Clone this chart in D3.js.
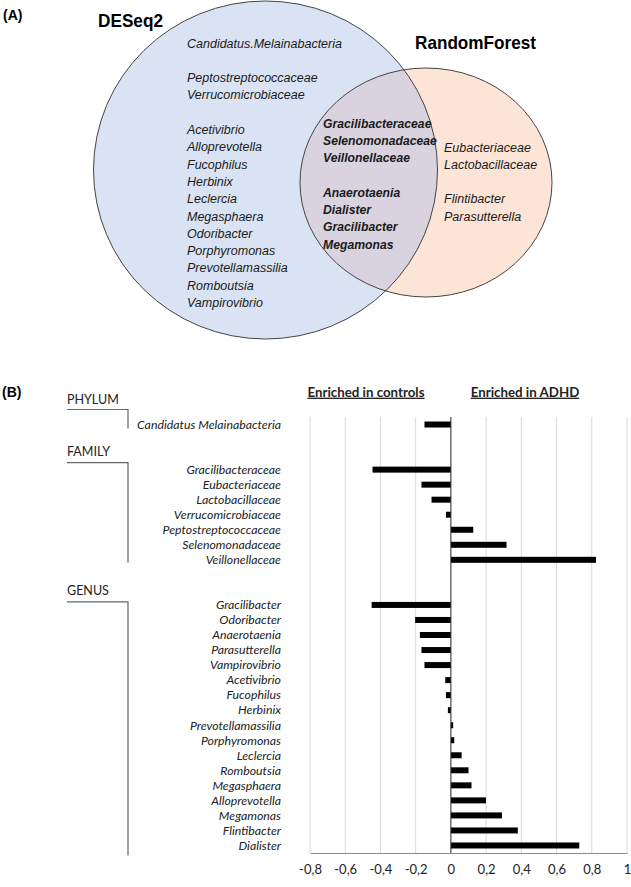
<!DOCTYPE html>
<html><head><meta charset="utf-8">
<script src="https://cdn.jsdelivr.net/npm/d3@7"></script>
<style>body{margin:0;background:#fff}svg{display:block}</style>
</head><body>
<script>
// ---------- Venn (A) data ----------
const setNames = ["DESeq2", "RandomForest"];
const deseqOnlyGroups = [
  ["Candidatus.Melainabacteria"],
  ["Peptostreptococcaceae", "Verrucomicrobiaceae"],
  ["Acetivibrio", "Alloprevotella", "Fucophilus", "Herbinix", "Leclercia", "Megasphaera",
   "Odoribacter", "Porphyromonas", "Prevotellamassilia", "Romboutsia", "Vampirovibrio"]
];
const sharedGroups = [
  ["Gracilibacteraceae", "Selenomonadaceae", "Veillonellaceae"],
  ["Anaerotaenia", "Dialister", "Gracilibacter", "Megamonas"]
];
const rfOnlyGroups = [
  ["Eubacteriaceae", "Lactobacillaceae"],
  ["Flintibacter", "Parasutterella"]
];

// ---------- Bar chart (B) data ----------
const levelNames = ["PHYLUM", "FAMILY", "GENUS"];
const phylumTaxa = ["Candidatus Melainabacteria"];
const phylumValues = [-0.15];
const familyTaxa = ["Gracilibacteraceae", "Eubacteriaceae", "Lactobacillaceae", "Verrucomicrobiaceae",
  "Peptostreptococcaceae", "Selenomonadaceae", "Veillonellaceae"];
const familyValues = [-0.445, -0.167, -0.11, -0.028, 0.127, 0.316, 0.824];
const genusTaxa = ["Gracilibacter", "Odoribacter", "Anaerotaenia", "Parasutterella", "Vampirovibrio",
  "Acetivibrio", "Fucophilus", "Herbinix", "Prevotellamassilia", "Porphyromonas", "Leclercia",
  "Romboutsia", "Megasphaera", "Alloprevotella", "Megamonas", "Flintibacter", "Dialister"];
const genusValues = [-0.45, -0.203, -0.176, -0.167, -0.15, -0.032, -0.028, -0.017, 0.013, 0.019,
  0.061, 0.10, 0.117, 0.199, 0.29, 0.38, 0.729];
const xTickValues = [-0.8, -0.6, -0.4, -0.2, 0, 0.2, 0.4, 0.6, 0.8, 1];
const headers = ["Enriched in controls", "Enriched in ADHD"];

const W = 631, H = 887;
const svg = d3.select("body").append("svg").attr("width", W).attr("height", H);

// ================= (A) Venn =================
const venn = svg.append("g");
svg.append("text").attr("x", 3).attr("y", 20).text("(A)")
  .attr("font-family", "Liberation Sans, Arial, sans-serif").attr("font-weight", "bold").attr("font-size", 14);

const left = {cx: 265.5, cy: 170, rx: 172, ry: 169};
const right = {cx: 426, cy: 182.5, rx: 126, ry: 114.5};
const defs = svg.append("defs");
defs.append("clipPath").attr("id", "clipL").append("ellipse")
  .attr("cx", left.cx).attr("cy", left.cy).attr("rx", left.rx).attr("ry", left.ry);

venn.append("ellipse").attr("cx", left.cx).attr("cy", left.cy).attr("rx", left.rx).attr("ry", left.ry)
  .attr("fill", "#dae3f3");
venn.append("ellipse").attr("cx", right.cx).attr("cy", right.cy).attr("rx", right.rx).attr("ry", right.ry)
  .attr("fill", "#fce4d6");
venn.append("ellipse").attr("cx", right.cx).attr("cy", right.cy).attr("rx", right.rx).attr("ry", right.ry)
  .attr("fill", "#d8d3de").attr("clip-path", "url(#clipL)");
venn.append("ellipse").attr("cx", left.cx).attr("cy", left.cy).attr("rx", left.rx).attr("ry", left.ry)
  .attr("fill", "none").attr("stroke", "#444").attr("stroke-width", 1);
venn.append("ellipse").attr("cx", right.cx).attr("cy", right.cy).attr("rx", right.rx).attr("ry", right.ry)
  .attr("fill", "none").attr("stroke", "#444").attr("stroke-width", 1);

const vFont = "Liberation Sans, Arial, sans-serif";
venn.append("text").attr("x", 98).attr("y", 27).text(setNames[0])
  .attr("font-family", vFont).attr("font-weight", "bold").attr("font-size", 18.5)
  .attr("textLength", 65).attr("lengthAdjust", "spacingAndGlyphs");
venn.append("text").attr("x", 415).attr("y", 49).text(setNames[1])
  .attr("font-family", vFont).attr("font-weight", "bold").attr("font-size", 18.5)
  .attr("textLength", 121).attr("lengthAdjust", "spacingAndGlyphs");

function drawList(groups, x, yStart, lineH, gapH, bold) {
  let y = yStart;
  groups.forEach((grp, gi) => {
    if (gi > 0) y += gapH;
    grp.forEach(name => {
      venn.append("text").attr("x", x).attr("y", y).text(name)
        .attr("font-family", vFont).attr("font-style", "italic")
        .attr("font-weight", bold ? "bold" : "normal")
        .attr("font-size", bold ? 12.2 : 12.5).attr("fill", "#1a1a1a");
      y += lineH;
    });
  });
}
drawList(deseqOnlyGroups, 187, 47.5, 17.3, 17.3, false);
drawList(sharedGroups, 323, 127.5, 17.3, 17.3, true);
drawList(rfOnlyGroups, 444, 151.5, 17.3, 17.3, false);

// ================= (B) Bar chart =================
const cFont = "Lato, 'Open Sans', sans-serif";
svg.append("text").attr("x", 2).attr("y", 397).text("(B)")
  .attr("font-family", "Liberation Sans, Arial, sans-serif").attr("font-weight", "bold").attr("font-size", 14);

// slots: taxa rows plus blank separator rows
const levels = [
  {name: levelNames[0], taxa: phylumTaxa, values: phylumValues},
  {name: levelNames[1], taxa: familyTaxa, values: familyValues},
  {name: levelNames[2], taxa: genusTaxa, values: genusValues}
];
const slots = [];
const rows = [];
levels.forEach((lv, li) => {
  if (li > 0) { slots.push("blank" + li + "a"); slots.push("blank" + li + "b"); }
  lv.taxa.forEach((t, i) => { slots.push(t); rows.push({taxon: t, value: lv.values[i], level: li}); });
});

const plotTop = 417, plotBottom = 853;
const y = d3.scaleBand().domain(slots).range([plotTop, plotBottom]);
const x = d3.scaleLinear().domain([-0.8, 1]).range([310, 627]);

// gridlines
svg.append("g").selectAll("line").data(xTickValues).join("line")
  .attr("x1", d => x(d)).attr("x2", d => x(d))
  .attr("y1", plotTop).attr("y2", plotBottom)
  .attr("stroke", "#d9d9d9").attr("stroke-width", 1);

// bottom axis
const fmt = d => d === 0 ? "0" : String(+d.toFixed(1)).replace(".", ",");
const xAxis = d3.axisBottom(x).tickValues(xTickValues).tickFormat(fmt).tickSize(0).tickPadding(12);
const ax = svg.append("g").attr("transform", `translate(0,${plotBottom})`).call(xAxis);
ax.select(".domain").attr("stroke", "#8c8c8c");
ax.selectAll("text").attr("font-family", cFont).attr("font-size", 13).attr("fill", "#222");

// bars
const barH = 6;
svg.append("g").selectAll("rect").data(rows).join("rect")
  .attr("x", d => x(Math.min(0, d.value)))
  .attr("width", d => Math.abs(x(d.value) - x(0)))
  .attr("y", d => y(d.taxon) + y.bandwidth() / 2 - barH / 2)
  .attr("height", barH)
  .attr("fill", "#000");

// zero line
svg.append("line").attr("x1", x(0)).attr("x2", x(0)).attr("y1", plotTop).attr("y2", plotBottom)
  .attr("stroke", "#333").attr("stroke-width", 1);

// taxa labels
svg.append("g").selectAll("text").data(rows).join("text")
  .attr("x", 281).attr("y", d => y(d.taxon) + y.bandwidth() / 2)
  .attr("dy", "0.35em").attr("text-anchor", "end")
  .attr("font-family", cFont).attr("font-style", "italic").attr("font-size", 12.3)
  .attr("fill", "#222").text(d => d.taxon);

// level labels + brackets
const bracketCfg = [
  {lineOff: -15, endOff: 4, labelOff: -10},
  {lineOff: -7, endOff: 3, labelOff: -11},
  {lineOff: -3, endOff: 10, labelOff: -11}
];
levels.forEach((lv, li) => {
  const first = y(lv.taxa[0]) + y.bandwidth() / 2;
  const last = y(lv.taxa[lv.taxa.length - 1]) + y.bandwidth() / 2;
  const c = bracketCfg[li];
  const ly = first + c.lineOff;
  svg.append("path")
    .attr("d", `M67,${ly}H128V${last + c.endOff}`)
    .attr("fill", "none").attr("stroke", "#666").attr("stroke-width", 1.2);
  svg.append("text").attr("x", 67).attr("y", ly + c.labelOff).attr("dy", "0.35em")
    .attr("font-family", cFont).attr("font-size", 12.5).attr("fill", "#222").text(lv.name);
});

// headers
[[366, headers[0]], [525, headers[1]]].forEach(([cx, t]) => {
  svg.append("text").attr("x", cx).attr("y", 392).attr("dy", "0.35em").attr("text-anchor", "middle")
    .attr("font-family", cFont).attr("font-weight", "bold").attr("font-size", 13.3)
    .attr("text-decoration", "underline").attr("fill", "#222").text(t);
});
</script>
</body></html>
